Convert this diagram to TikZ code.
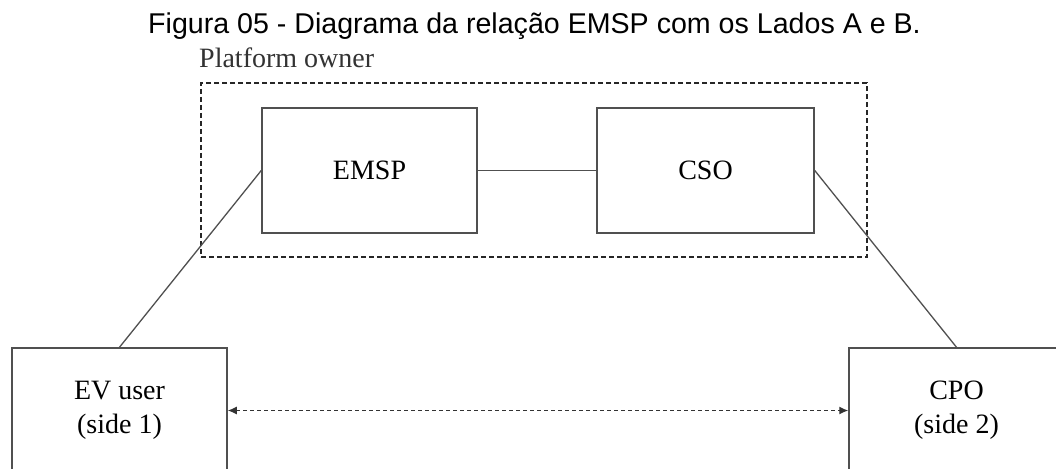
\documentclass[tikz,border=0pt]{standalone}
\usepackage{fontspec}
\setmainfont{Liberation Serif}
\newfontfamily\arialfont{Liberation Sans}
\usetikzlibrary{arrows.meta}
\definecolor{linegray}{HTML}{505050}
\tikzset{
  box/.style={draw=linegray, line width=1.5pt, minimum width=215pt, minimum height=125pt,
    inner sep=0pt, align=center, font=\fontsize{28}{34}\selectfont},
  conn/.style={draw=linegray, line width=1.3pt},
  group/.style={draw=black!85, line width=1.1pt, dash pattern=on 5pt off 3pt},
  dashedarrow/.style={draw=black!80, line width=1.3pt, dash pattern=on 4pt off 3pt,
    {Latex[length=9pt,width=8pt]}-{Latex[length=9pt,width=8pt]}}
}
\begin{document}
\begin{tikzpicture}[x=1pt,y=-1pt]
\useasboundingbox (0,0) rectangle (1056,468);
\clip (0,0) rectangle (1056,468);
\fill[white] (0,0) rectangle (1056,468);
\node[anchor=base west, inner sep=0pt, font=\arialfont\fontsize{28.6}{34}\selectfont] (title) at (148,34)
  {Figura 05 - Diagrama da relação EMSP com os Lados A e B.};
\node[anchor=base west, inner sep=0pt, text=black!80, font=\fontsize{28}{34}\selectfont] (owner) at (199,68) {Platform owner};
\node[group, minimum width=666pt, minimum height=174pt, inner sep=0pt] (platform) at (534,170) {};
\node[box] (emsp) at (369.5,170.5) {EMSP};
\node[box, minimum width=217pt] (cso) at (705.5,170.5) {CSO};
\node[box] (ev) at (119.5,410.5) {EV user\\(side 1)};
\node[box] (cpo) at (956.5,410.5) {CPO\\(side 2)};
\draw[conn] (emsp.east) -- (cso.west);
\draw[conn] (emsp.west) -- (ev.north);
\draw[conn] (cso.east) -- (cpo.north);
\draw[dashedarrow] (ev.east) -- (cpo.west);
\end{tikzpicture}
\end{document}
